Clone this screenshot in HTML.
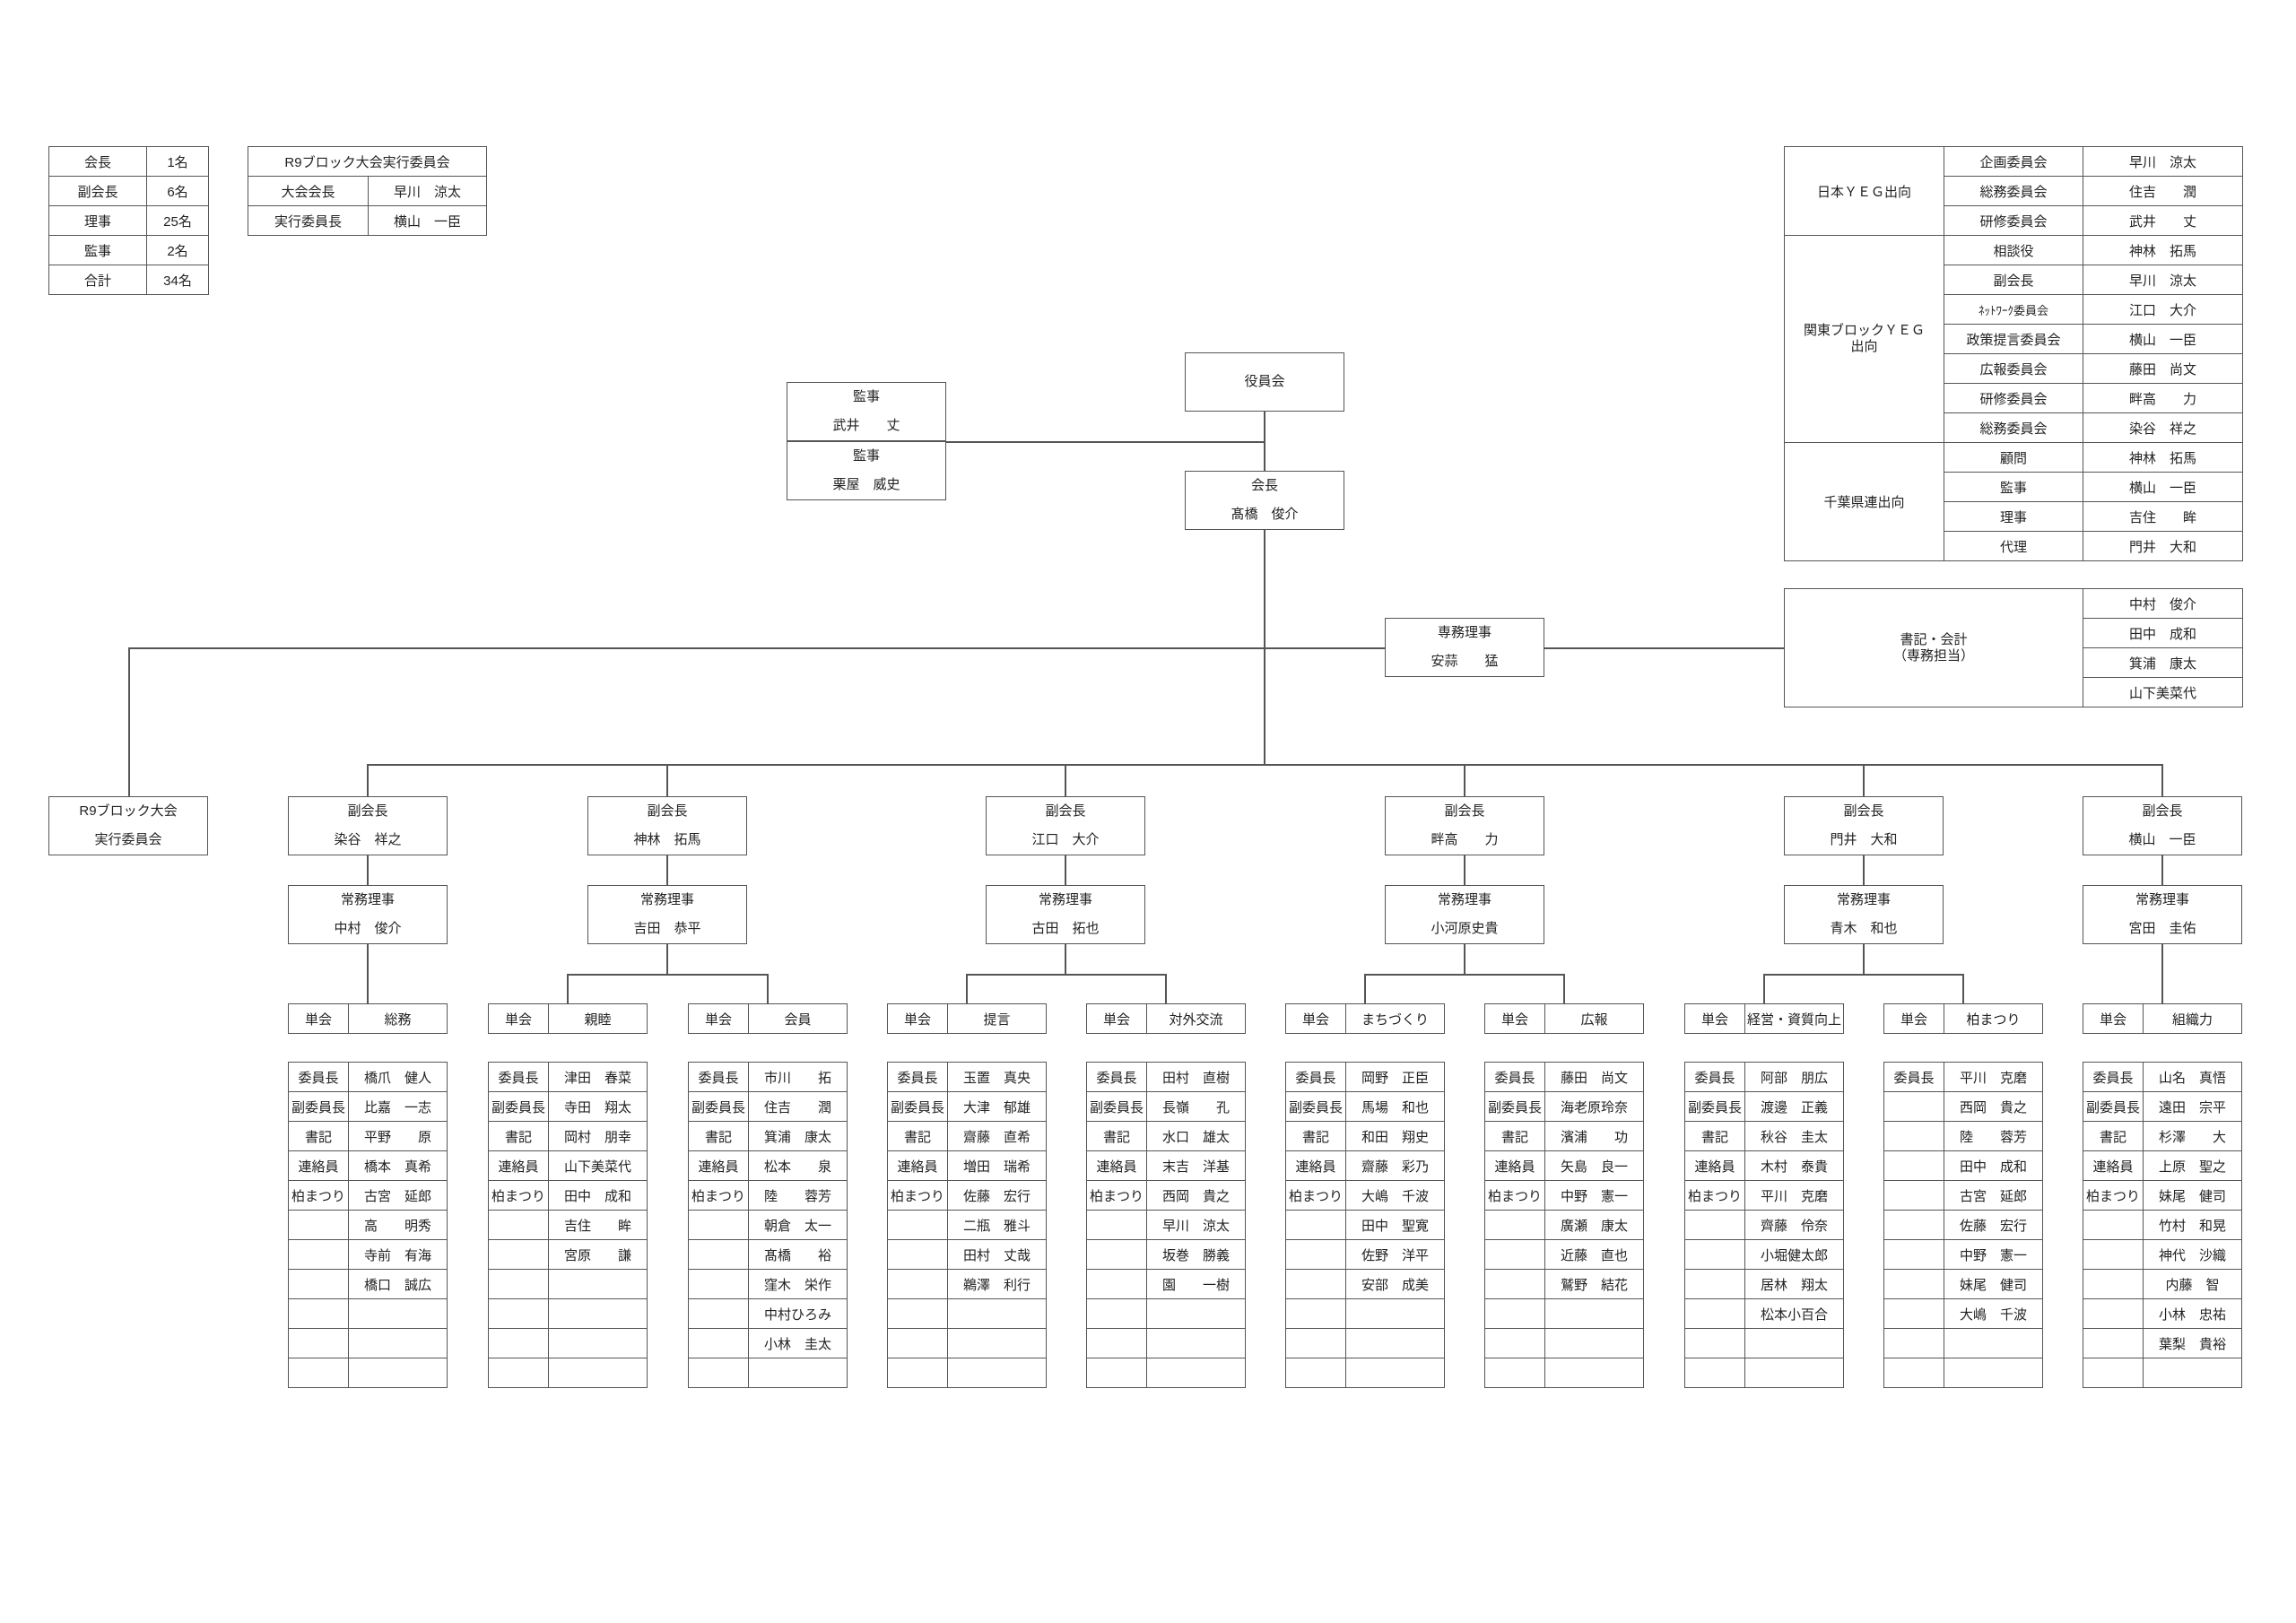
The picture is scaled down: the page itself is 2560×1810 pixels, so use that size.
<!DOCTYPE html>
<html><head><meta charset="utf-8">
<style>
*{margin:0;padding:0;box-sizing:border-box}
body{width:2560px;height:1810px;background:#fff;position:relative;overflow:hidden;font-family:"Liberation Sans","Noto Sans CJK JP",sans-serif;font-size:15px;color:#222}
table{position:absolute;border-collapse:collapse;table-layout:fixed;background:#fff}
td{border:1.5px solid #555;height:33px;text-align:center;vertical-align:middle;padding:0;white-space:nowrap;font-size:15px}
.b{position:absolute;border:1.5px solid #555;background:#fff;width:178px;height:66px;text-align:center;line-height:32px;font-size:15px}
.h{position:absolute;height:1.5px;background:#555}
.v{position:absolute;width:1.5px;background:#555}
.m{top:1184px;width:178px}
.u{top:1119px;width:178px}
</style></head><body>

<!-- connectors -->
<div class="v" style="left:1409px;top:459px;height:394px"></div>
<div class="h" style="left:1055px;top:492px;width:355px"></div>
<div class="h" style="left:143px;top:722px;width:1846px"></div>
<div class="v" style="left:143px;top:722px;height:166px"></div>
<div class="h" style="left:409px;top:852px;width:2003px"></div>
<div class="v" style="left:409px;top:852px;height:267px"></div>
<div class="v" style="left:743px;top:852px;height:234px"></div>
<div class="v" style="left:1187px;top:852px;height:234px"></div>
<div class="v" style="left:1632px;top:852px;height:234px"></div>
<div class="v" style="left:2077px;top:852px;height:234px"></div>
<div class="v" style="left:2410px;top:852px;height:267px"></div>
<div class="h" style="left:632px;top:1086px;width:224px"></div>
<div class="h" style="left:1077px;top:1086px;width:223px"></div>
<div class="h" style="left:1521px;top:1086px;width:223px"></div>
<div class="h" style="left:1966px;top:1086px;width:223px"></div>
<div class="v" style="left:632px;top:1086px;height:33px"></div>
<div class="v" style="left:855px;top:1086px;height:33px"></div>
<div class="v" style="left:1077px;top:1086px;height:33px"></div>
<div class="v" style="left:1299px;top:1086px;height:33px"></div>
<div class="v" style="left:1521px;top:1086px;height:33px"></div>
<div class="v" style="left:1743px;top:1086px;height:33px"></div>
<div class="v" style="left:1966px;top:1086px;height:33px"></div>
<div class="v" style="left:2188px;top:1086px;height:33px"></div>

<!-- stat tables -->
<table style="left:54px;top:163px;width:178px"><col style="width:109px"><col style="width:69px">
<tr><td>会長</td><td>1名</td></tr><tr><td>副会長</td><td>6名</td></tr><tr><td>理事</td><td>25名</td></tr><tr><td>監事</td><td>2名</td></tr><tr><td>合計</td><td>34名</td></tr></table>
<table style="left:276px;top:163px;width:266px"><col style="width:134px"><col style="width:132px">
<tr><td colspan="2">R9ブロック大会実行委員会</td></tr><tr><td>大会会長</td><td>早川　涼太</td></tr><tr><td>実行委員長</td><td>横山　一臣</td></tr></table>

<!-- YEG -->
<table style="left:1989px;top:163px;width:511px"><col style="width:178px"><col style="width:155px"><col style="width:178px">
<tr><td rowspan="3">日本ＹＥＧ出向</td><td>企画委員会</td><td>早川　涼太</td></tr>
<tr><td>総務委員会</td><td>住吉　　潤</td></tr>
<tr><td>研修委員会</td><td>武井　　丈</td></tr>
<tr><td rowspan="7" style="line-height:18px">関東ブロックＹＥＧ<br>出向</td><td>相談役</td><td>神林　拓馬</td></tr>
<tr><td>副会長</td><td>早川　涼太</td></tr>
<tr><td style="font-size:13px">ﾈｯﾄﾜｰｸ委員会</td><td>江口　大介</td></tr>
<tr><td>政策提言委員会</td><td>横山　一臣</td></tr>
<tr><td>広報委員会</td><td>藤田　尚文</td></tr>
<tr><td>研修委員会</td><td>畔高　　力</td></tr>
<tr><td>総務委員会</td><td>染谷　祥之</td></tr>
<tr><td rowspan="4">千葉県連出向</td><td>顧問</td><td>神林　拓馬</td></tr>
<tr><td>監事</td><td>横山　一臣</td></tr>
<tr><td>理事</td><td>吉住　　眸</td></tr>
<tr><td>代理</td><td>門井　大和</td></tr></table>
<table style="left:1989px;top:656px;width:511px"><col style="width:333px"><col style="width:178px">
<tr><td rowspan="4" style="line-height:18px">書記・会計<br>（専務担当）</td><td>中村　俊介</td></tr>
<tr><td>田中　成和</td></tr><tr><td>箕浦　康太</td></tr><tr><td>山下美菜代</td></tr></table>

<!-- top boxes -->
<div class="b" style="left:1321px;top:393px;line-height:63px">役員会</div>
<div class="b" style="left:877px;top:426px">監事<br>武井　　丈</div>
<div class="b" style="left:877px;top:492px">監事<br>栗屋　威史</div>
<div class="b" style="left:1321px;top:525px">会長<br>髙橋　俊介</div>
<div class="b" style="left:1544px;top:689px">専務理事<br>安蒜　　猛</div>
<div class="b" style="left:54px;top:888px">R9ブロック大会<br>実行委員会</div>

<div class="b" style="left:321px;top:888px">副会長<br>染谷　祥之</div>
<div class="b" style="left:655px;top:888px">副会長<br>神林　拓馬</div>
<div class="b" style="left:1099px;top:888px">副会長<br>江口　大介</div>
<div class="b" style="left:1544px;top:888px">副会長<br>畔高　　力</div>
<div class="b" style="left:1989px;top:888px">副会長<br>門井　大和</div>
<div class="b" style="left:2322px;top:888px">副会長<br>横山　一臣</div>

<div class="b" style="left:321px;top:987px">常務理事<br>中村　俊介</div>
<div class="b" style="left:655px;top:987px">常務理事<br>吉田　恭平</div>
<div class="b" style="left:1099px;top:987px">常務理事<br>古田　拓也</div>
<div class="b" style="left:1544px;top:987px">常務理事<br>小河原史貴</div>
<div class="b" style="left:1989px;top:987px">常務理事<br>青木　和也</div>
<div class="b" style="left:2322px;top:987px">常務理事<br>宮田　圭佑</div>

<!-- unit headers -->
<table class="u" style="left:321px"><col style="width:67px"><col><tr><td>単会</td><td>総務</td></tr></table>
<table class="u" style="left:544px"><col style="width:67px"><col><tr><td>単会</td><td>親睦</td></tr></table>
<table class="u" style="left:767px"><col style="width:67px"><col><tr><td>単会</td><td>会員</td></tr></table>
<table class="u" style="left:989px"><col style="width:67px"><col><tr><td>単会</td><td>提言</td></tr></table>
<table class="u" style="left:1211px"><col style="width:67px"><col><tr><td>単会</td><td>対外交流</td></tr></table>
<table class="u" style="left:1433px"><col style="width:67px"><col><tr><td>単会</td><td>まちづくり</td></tr></table>
<table class="u" style="left:1655px"><col style="width:67px"><col><tr><td>単会</td><td>広報</td></tr></table>
<table class="u" style="left:1878px"><col style="width:67px"><col><tr><td>単会</td><td>経営・資質向上</td></tr></table>
<table class="u" style="left:2100px"><col style="width:67px"><col><tr><td>単会</td><td>柏まつり</td></tr></table>
<table class="u" style="left:2322px"><col style="width:67px"><col><tr><td>単会</td><td>組織力</td></tr></table>

<!-- member tables -->
<table class="m" style="left:321px"><col style="width:67px"><col>
<tr><td>委員長</td><td>橋爪　健人</td></tr><tr><td>副委員長</td><td>比嘉　一志</td></tr><tr><td>書記</td><td>平野　　原</td></tr><tr><td>連絡員</td><td>橋本　真希</td></tr><tr><td>柏まつり</td><td>古宮　延郎</td></tr><tr><td></td><td>高　　明秀</td></tr><tr><td></td><td>寺前　有海</td></tr><tr><td></td><td>橋口　誠広</td></tr><tr><td></td><td></td></tr><tr><td></td><td></td></tr><tr><td></td><td></td></tr></table>

<table class="m" style="left:544px"><col style="width:67px"><col>
<tr><td>委員長</td><td>津田　春菜</td></tr><tr><td>副委員長</td><td>寺田　翔太</td></tr><tr><td>書記</td><td>岡村　朋幸</td></tr><tr><td>連絡員</td><td>山下美菜代</td></tr><tr><td>柏まつり</td><td>田中　成和</td></tr><tr><td></td><td>吉住　　眸</td></tr><tr><td></td><td>宮原　　謙</td></tr><tr><td></td><td></td></tr><tr><td></td><td></td></tr><tr><td></td><td></td></tr><tr><td></td><td></td></tr></table>

<table class="m" style="left:767px"><col style="width:67px"><col>
<tr><td>委員長</td><td>市川　　拓</td></tr><tr><td>副委員長</td><td>住吉　　潤</td></tr><tr><td>書記</td><td>箕浦　康太</td></tr><tr><td>連絡員</td><td>松本　　泉</td></tr><tr><td>柏まつり</td><td>陸　　蓉芳</td></tr><tr><td></td><td>朝倉　太一</td></tr><tr><td></td><td>髙橋　　裕</td></tr><tr><td></td><td>窪木　栄作</td></tr><tr><td></td><td>中村ひろみ</td></tr><tr><td></td><td>小林　圭太</td></tr><tr><td></td><td></td></tr></table>

<table class="m" style="left:989px"><col style="width:67px"><col>
<tr><td>委員長</td><td>玉置　真央</td></tr><tr><td>副委員長</td><td>大津　郁雄</td></tr><tr><td>書記</td><td>齋藤　直希</td></tr><tr><td>連絡員</td><td>増田　瑞希</td></tr><tr><td>柏まつり</td><td>佐藤　宏行</td></tr><tr><td></td><td>二瓶　雅斗</td></tr><tr><td></td><td>田村　丈哉</td></tr><tr><td></td><td>鵜澤　利行</td></tr><tr><td></td><td></td></tr><tr><td></td><td></td></tr><tr><td></td><td></td></tr></table>

<table class="m" style="left:1211px"><col style="width:67px"><col>
<tr><td>委員長</td><td>田村　直樹</td></tr><tr><td>副委員長</td><td>長嶺　　孔</td></tr><tr><td>書記</td><td>水口　雄太</td></tr><tr><td>連絡員</td><td>末吉　洋基</td></tr><tr><td>柏まつり</td><td>西岡　貴之</td></tr><tr><td></td><td>早川　涼太</td></tr><tr><td></td><td>坂巻　勝義</td></tr><tr><td></td><td>園　　一樹</td></tr><tr><td></td><td></td></tr><tr><td></td><td></td></tr><tr><td></td><td></td></tr></table>

<table class="m" style="left:1433px"><col style="width:67px"><col>
<tr><td>委員長</td><td>岡野　正臣</td></tr><tr><td>副委員長</td><td>馬場　和也</td></tr><tr><td>書記</td><td>和田　翔史</td></tr><tr><td>連絡員</td><td>齋藤　彩乃</td></tr><tr><td>柏まつり</td><td>大嶋　千波</td></tr><tr><td></td><td>田中　聖寛</td></tr><tr><td></td><td>佐野　洋平</td></tr><tr><td></td><td>安部　成美</td></tr><tr><td></td><td></td></tr><tr><td></td><td></td></tr><tr><td></td><td></td></tr></table>

<table class="m" style="left:1655px"><col style="width:67px"><col>
<tr><td>委員長</td><td>藤田　尚文</td></tr><tr><td>副委員長</td><td>海老原玲奈</td></tr><tr><td>書記</td><td>濱浦　　功</td></tr><tr><td>連絡員</td><td>矢島　良一</td></tr><tr><td>柏まつり</td><td>中野　憲一</td></tr><tr><td></td><td>廣瀬　康太</td></tr><tr><td></td><td>近藤　直也</td></tr><tr><td></td><td>鷲野　結花</td></tr><tr><td></td><td></td></tr><tr><td></td><td></td></tr><tr><td></td><td></td></tr></table>

<table class="m" style="left:1878px"><col style="width:67px"><col>
<tr><td>委員長</td><td>阿部　朋広</td></tr><tr><td>副委員長</td><td>渡邊　正義</td></tr><tr><td>書記</td><td>秋谷　圭太</td></tr><tr><td>連絡員</td><td>木村　泰貴</td></tr><tr><td>柏まつり</td><td>平川　克磨</td></tr><tr><td></td><td>齊藤　伶奈</td></tr><tr><td></td><td>小堀健太郎</td></tr><tr><td></td><td>居林　翔太</td></tr><tr><td></td><td>松本小百合</td></tr><tr><td></td><td></td></tr><tr><td></td><td></td></tr></table>

<table class="m" style="left:2100px"><col style="width:67px"><col>
<tr><td>委員長</td><td>平川　克磨</td></tr><tr><td></td><td>西岡　貴之</td></tr><tr><td></td><td>陸　　蓉芳</td></tr><tr><td></td><td>田中　成和</td></tr><tr><td></td><td>古宮　延郎</td></tr><tr><td></td><td>佐藤　宏行</td></tr><tr><td></td><td>中野　憲一</td></tr><tr><td></td><td>妹尾　健司</td></tr><tr><td></td><td>大嶋　千波</td></tr><tr><td></td><td></td></tr><tr><td></td><td></td></tr></table>

<table class="m" style="left:2322px"><col style="width:67px"><col>
<tr><td>委員長</td><td>山名　真悟</td></tr><tr><td>副委員長</td><td>遠田　宗平</td></tr><tr><td>書記</td><td>杉澤　　大</td></tr><tr><td>連絡員</td><td>上原　聖之</td></tr><tr><td>柏まつり</td><td>妹尾　健司</td></tr><tr><td></td><td>竹村　和晃</td></tr><tr><td></td><td>神代　沙織</td></tr><tr><td></td><td>内藤　智</td></tr><tr><td></td><td>小林　忠祐</td></tr><tr><td></td><td>葉梨　貴裕</td></tr><tr><td></td><td></td></tr></table>

</body></html>
